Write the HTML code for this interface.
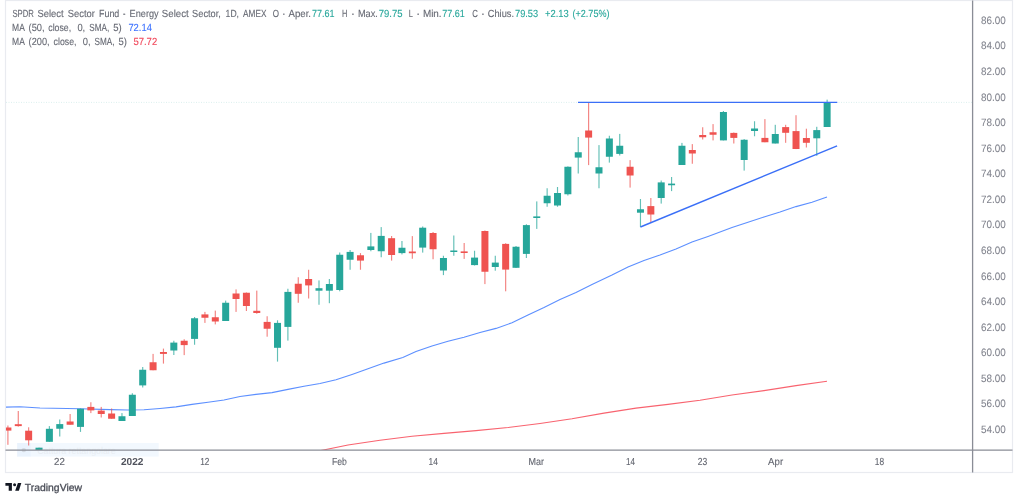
<!DOCTYPE html>
<html><head><meta charset="utf-8"><style>
html,body{margin:0;padding:0;background:#fff;width:1024px;height:497px;overflow:hidden}
svg{display:block}
.tl{position:absolute;left:0;top:0;will-change:transform}
text{font-family:"Liberation Sans",sans-serif;text-rendering:geometricPrecision}
</style></head><body>
<svg width="1024" height="497" viewBox="0 0 1024 497">
<rect x="0" y="0" width="1024" height="497" fill="#fff"/>
<!-- frame -->
<rect x="5.5" y="0.5" width="1007" height="472" fill="none" stroke="#e9ebf0" stroke-width="1.2"/>
<rect x="17.2" y="443" width="141.5" height="13.6" fill="#eaf3fd" opacity="0.6"/>
<rect x="17.2" y="443" width="13.4" height="13.6" fill="#dceafb" opacity="0.35"/>
<text x="37.2" y="453.5" textLength="78.5" lengthAdjust="spacingAndGlyphs" fill="#d8dade" font-size="10" opacity="0.35">Cattura rettangolare</text>
<circle cx="23.8" cy="450.1" r="2.2" fill="#c0c3ca" opacity="0.5"/>
<defs><clipPath id="pane"><rect x="6" y="1" width="966" height="449"/></clipPath></defs>
<g clip-path="url(#pane)">
<line x1="6" y1="102.4" x2="972" y2="102.4" stroke="#26a69a" stroke-width="1" stroke-dasharray="1 1.5" opacity="0.16"/>
<path d="M300.0,454.5 L323.5,450.0 L348.0,445.0 L380.0,440.2 L412.0,436.2 L444.0,433.4 L476.0,430.6 L508.0,427.5 L540.0,423.5 L572.0,418.8 L604.0,413.1 L636.0,408.1 L668.0,404.4 L700.0,400.2 L732.0,395.0 L764.0,390.6 L796.0,385.6 L827.0,381.2" fill="none" stroke="#f7525f" stroke-width="1.1" opacity="0.9"/>
<path d="M5.0,407.2 L20.0,406.8 L40.0,408.0 L80.0,408.8 L110.0,409.6 L128.0,410.0 L144.0,409.8 L160.0,408.5 L176.0,406.9 L192.0,404.4 L208.0,402.2 L224.0,400.0 L240.0,396.5 L256.0,394.4 L272.0,392.6 L288.0,389.4 L304.0,386.2 L320.0,383.5 L336.0,379.8 L352.0,374.4 L368.0,368.8 L384.0,363.1 L402.8,357.5 L416.0,351.6 L432.0,346.0 L448.0,341.2 L464.0,337.2 L480.0,332.5 L496.0,328.4 L512.0,322.8 L528.0,315.1 L544.0,307.6 L560.0,299.5 L576.0,292.6 L592.0,284.5 L612.0,275.1 L628.0,267.0 L644.0,260.5 L660.0,255.1 L676.0,248.9 L692.0,242.0 L708.0,236.5 L716.0,233.6 L732.0,227.4 L748.0,222.2 L764.0,217.0 L780.0,212.0 L796.0,206.6 L812.0,202.2 L827.0,197.0" fill="none" stroke="#3f7bff" stroke-width="1.1" opacity="0.85"/>
<rect x="7.33" y="425.50" width="1.15" height="19.30" fill="#ef5350" opacity="0.72"/>
<rect x="4.40" y="427.50" width="7.0" height="3.10" fill="#ef5350"/>
<rect x="17.70" y="411.00" width="1.15" height="15.60" fill="#ef5350" opacity="0.72"/>
<rect x="14.77" y="424.20" width="7.0" height="1.90" fill="#ef5350"/>
<rect x="28.07" y="427.30" width="1.15" height="18.20" fill="#ef5350" opacity="0.72"/>
<rect x="25.14" y="430.70" width="7.0" height="9.60" fill="#ef5350"/>
<rect x="38.43" y="447.70" width="1.15" height="4.30" fill="#26a69a" opacity="0.72"/>
<rect x="35.51" y="447.70" width="7.0" height="4.30" fill="#26a69a"/>
<rect x="48.80" y="426.10" width="1.15" height="15.70" fill="#26a69a" opacity="0.72"/>
<rect x="45.88" y="428.80" width="7.0" height="13.00" fill="#26a69a"/>
<rect x="59.17" y="419.50" width="1.15" height="17.00" fill="#26a69a" opacity="0.72"/>
<rect x="56.25" y="424.10" width="7.0" height="4.65" fill="#26a69a"/>
<rect x="69.55" y="414.00" width="1.15" height="10.75" fill="#ef5350" opacity="0.72"/>
<rect x="66.62" y="421.50" width="7.0" height="3.25" fill="#ef5350"/>
<rect x="79.91" y="408.50" width="1.15" height="23.40" fill="#26a69a" opacity="0.72"/>
<rect x="76.99" y="408.75" width="7.0" height="18.15" fill="#26a69a"/>
<rect x="90.28" y="402.25" width="1.15" height="10.85" fill="#ef5350" opacity="0.72"/>
<rect x="87.36" y="406.90" width="7.0" height="3.50" fill="#ef5350"/>
<rect x="100.66" y="406.90" width="1.15" height="10.60" fill="#ef5350" opacity="0.72"/>
<rect x="97.73" y="410.60" width="7.0" height="3.40" fill="#ef5350"/>
<rect x="111.02" y="408.50" width="1.15" height="10.25" fill="#ef5350" opacity="0.72"/>
<rect x="108.10" y="413.50" width="7.0" height="5.25" fill="#ef5350"/>
<rect x="121.39" y="413.10" width="1.15" height="7.90" fill="#26a69a" opacity="0.72"/>
<rect x="118.47" y="416.25" width="7.0" height="4.75" fill="#26a69a"/>
<rect x="131.77" y="393.25" width="1.15" height="22.75" fill="#26a69a" opacity="0.72"/>
<rect x="128.84" y="394.75" width="7.0" height="21.25" fill="#26a69a"/>
<rect x="142.14" y="367.00" width="1.15" height="20.50" fill="#26a69a" opacity="0.72"/>
<rect x="139.21" y="369.75" width="7.0" height="15.65" fill="#26a69a"/>
<rect x="152.50" y="353.90" width="1.15" height="16.35" fill="#ef5350" opacity="0.72"/>
<rect x="149.58" y="362.25" width="7.0" height="8.00" fill="#ef5350"/>
<rect x="162.88" y="348.60" width="1.15" height="15.00" fill="#ef5350" opacity="0.72"/>
<rect x="159.95" y="352.00" width="7.0" height="1.90" fill="#ef5350"/>
<rect x="173.25" y="340.75" width="1.15" height="14.25" fill="#26a69a" opacity="0.72"/>
<rect x="170.32" y="342.60" width="7.0" height="7.90" fill="#26a69a"/>
<rect x="183.62" y="339.25" width="1.15" height="15.85" fill="#ef5350" opacity="0.72"/>
<rect x="180.69" y="340.75" width="7.0" height="4.35" fill="#ef5350"/>
<rect x="193.99" y="317.00" width="1.15" height="27.75" fill="#26a69a" opacity="0.72"/>
<rect x="191.06" y="318.25" width="7.0" height="20.65" fill="#26a69a"/>
<rect x="204.35" y="311.90" width="1.15" height="11.00" fill="#ef5350" opacity="0.72"/>
<rect x="201.43" y="314.40" width="7.0" height="3.35" fill="#ef5350"/>
<rect x="214.72" y="310.60" width="1.15" height="13.80" fill="#ef5350" opacity="0.72"/>
<rect x="211.80" y="317.25" width="7.0" height="4.25" fill="#ef5350"/>
<rect x="225.09" y="300.60" width="1.15" height="20.40" fill="#26a69a" opacity="0.72"/>
<rect x="222.17" y="302.75" width="7.0" height="18.25" fill="#26a69a"/>
<rect x="235.47" y="289.40" width="1.15" height="22.50" fill="#ef5350" opacity="0.72"/>
<rect x="232.54" y="293.50" width="7.0" height="5.50" fill="#ef5350"/>
<rect x="245.84" y="292.50" width="1.15" height="18.50" fill="#ef5350" opacity="0.72"/>
<rect x="242.91" y="292.75" width="7.0" height="13.25" fill="#ef5350"/>
<rect x="256.20" y="290.60" width="1.15" height="23.15" fill="#ef5350" opacity="0.72"/>
<rect x="253.28" y="310.80" width="7.0" height="2.20" fill="#ef5350"/>
<rect x="266.57" y="316.25" width="1.15" height="20.45" fill="#ef5350" opacity="0.72"/>
<rect x="263.65" y="321.90" width="7.0" height="6.85" fill="#ef5350"/>
<rect x="276.94" y="320.30" width="1.15" height="41.30" fill="#26a69a" opacity="0.72"/>
<rect x="274.02" y="322.90" width="7.0" height="24.90" fill="#26a69a"/>
<rect x="287.31" y="288.75" width="1.15" height="51.85" fill="#26a69a" opacity="0.72"/>
<rect x="284.39" y="291.90" width="7.0" height="35.00" fill="#26a69a"/>
<rect x="297.68" y="277.25" width="1.15" height="25.50" fill="#ef5350" opacity="0.72"/>
<rect x="294.76" y="283.75" width="7.0" height="10.05" fill="#ef5350"/>
<rect x="308.05" y="269.75" width="1.15" height="28.75" fill="#ef5350" opacity="0.72"/>
<rect x="305.13" y="279.00" width="7.0" height="6.40" fill="#ef5350"/>
<rect x="318.42" y="280.40" width="1.15" height="24.35" fill="#26a69a" opacity="0.72"/>
<rect x="315.50" y="288.20" width="7.0" height="2.50" fill="#26a69a"/>
<rect x="328.79" y="279.00" width="1.15" height="24.20" fill="#26a69a" opacity="0.72"/>
<rect x="325.87" y="284.00" width="7.0" height="6.70" fill="#26a69a"/>
<rect x="339.16" y="252.50" width="1.15" height="38.80" fill="#26a69a" opacity="0.72"/>
<rect x="336.24" y="254.75" width="7.0" height="35.25" fill="#26a69a"/>
<rect x="349.53" y="250.00" width="1.15" height="19.75" fill="#26a69a" opacity="0.72"/>
<rect x="346.61" y="251.90" width="7.0" height="7.85" fill="#26a69a"/>
<rect x="359.90" y="253.10" width="1.15" height="16.65" fill="#ef5350" opacity="0.72"/>
<rect x="356.98" y="255.25" width="7.0" height="5.35" fill="#ef5350"/>
<rect x="370.27" y="232.90" width="1.15" height="18.35" fill="#26a69a" opacity="0.72"/>
<rect x="367.35" y="246.40" width="7.0" height="3.60" fill="#26a69a"/>
<rect x="380.64" y="227.10" width="1.15" height="30.15" fill="#26a69a" opacity="0.72"/>
<rect x="377.72" y="235.90" width="7.0" height="15.35" fill="#26a69a"/>
<rect x="391.01" y="236.00" width="1.15" height="24.60" fill="#ef5350" opacity="0.72"/>
<rect x="388.09" y="238.20" width="7.0" height="16.80" fill="#ef5350"/>
<rect x="401.38" y="241.00" width="1.15" height="13.40" fill="#26a69a" opacity="0.72"/>
<rect x="398.46" y="247.75" width="7.0" height="5.35" fill="#26a69a"/>
<rect x="411.75" y="236.10" width="1.15" height="22.65" fill="#ef5350" opacity="0.72"/>
<rect x="408.83" y="251.50" width="7.0" height="1.75" fill="#ef5350"/>
<rect x="422.12" y="226.50" width="1.15" height="26.10" fill="#26a69a" opacity="0.72"/>
<rect x="419.20" y="227.70" width="7.0" height="19.90" fill="#26a69a"/>
<rect x="432.49" y="232.00" width="1.15" height="27.25" fill="#ef5350" opacity="0.72"/>
<rect x="429.57" y="233.00" width="7.0" height="16.25" fill="#ef5350"/>
<rect x="442.86" y="255.75" width="1.15" height="19.35" fill="#26a69a" opacity="0.72"/>
<rect x="439.94" y="258.00" width="7.0" height="12.50" fill="#26a69a"/>
<rect x="453.23" y="235.50" width="1.15" height="20.25" fill="#26a69a" opacity="0.72"/>
<rect x="450.31" y="250.50" width="7.0" height="1.50" fill="#26a69a"/>
<rect x="463.60" y="243.00" width="1.15" height="15.90" fill="#ef5350" opacity="0.72"/>
<rect x="460.68" y="251.40" width="7.0" height="1.60" fill="#ef5350"/>
<rect x="473.97" y="250.75" width="1.15" height="14.75" fill="#26a69a" opacity="0.72"/>
<rect x="471.05" y="257.60" width="7.0" height="7.50" fill="#26a69a"/>
<rect x="484.34" y="230.50" width="1.15" height="53.60" fill="#ef5350" opacity="0.72"/>
<rect x="481.42" y="231.00" width="7.0" height="40.75" fill="#ef5350"/>
<rect x="494.71" y="255.75" width="1.15" height="14.95" fill="#26a69a" opacity="0.72"/>
<rect x="491.79" y="262.60" width="7.0" height="4.40" fill="#26a69a"/>
<rect x="505.08" y="243.25" width="1.15" height="48.05" fill="#ef5350" opacity="0.72"/>
<rect x="502.16" y="243.90" width="7.0" height="25.70" fill="#ef5350"/>
<rect x="515.45" y="246.00" width="1.15" height="22.00" fill="#26a69a" opacity="0.72"/>
<rect x="512.53" y="246.75" width="7.0" height="21.05" fill="#26a69a"/>
<rect x="525.82" y="224.25" width="1.15" height="33.75" fill="#26a69a" opacity="0.72"/>
<rect x="522.90" y="225.10" width="7.0" height="28.80" fill="#26a69a"/>
<rect x="536.19" y="201.40" width="1.15" height="27.50" fill="#26a69a" opacity="0.72"/>
<rect x="533.27" y="216.40" width="7.0" height="1.60" fill="#26a69a"/>
<rect x="546.56" y="188.25" width="1.15" height="18.50" fill="#26a69a" opacity="0.72"/>
<rect x="543.64" y="195.75" width="7.0" height="7.50" fill="#26a69a"/>
<rect x="556.93" y="187.00" width="1.15" height="19.75" fill="#26a69a" opacity="0.72"/>
<rect x="554.01" y="193.00" width="7.0" height="12.50" fill="#26a69a"/>
<rect x="567.30" y="166.40" width="1.15" height="29.10" fill="#26a69a" opacity="0.72"/>
<rect x="564.38" y="166.75" width="7.0" height="27.50" fill="#26a69a"/>
<rect x="577.67" y="137.00" width="1.15" height="36.50" fill="#26a69a" opacity="0.72"/>
<rect x="574.75" y="152.25" width="7.0" height="5.35" fill="#26a69a"/>
<rect x="588.04" y="102.70" width="1.15" height="62.40" fill="#ef5350" opacity="0.72"/>
<rect x="585.12" y="130.50" width="7.0" height="7.10" fill="#ef5350"/>
<rect x="598.41" y="145.10" width="1.15" height="43.15" fill="#26a69a" opacity="0.72"/>
<rect x="595.49" y="167.25" width="7.0" height="6.25" fill="#26a69a"/>
<rect x="608.78" y="135.75" width="1.15" height="26.85" fill="#26a69a" opacity="0.72"/>
<rect x="605.86" y="138.50" width="7.0" height="18.25" fill="#26a69a"/>
<rect x="619.15" y="133.90" width="1.15" height="21.60" fill="#26a69a" opacity="0.72"/>
<rect x="616.23" y="145.75" width="7.0" height="8.15" fill="#26a69a"/>
<rect x="629.52" y="160.10" width="1.15" height="27.50" fill="#ef5350" opacity="0.72"/>
<rect x="626.60" y="166.75" width="7.0" height="8.75" fill="#ef5350"/>
<rect x="639.89" y="199.00" width="1.15" height="27.90" fill="#26a69a" opacity="0.72"/>
<rect x="636.97" y="209.25" width="7.0" height="3.45" fill="#26a69a"/>
<rect x="650.26" y="198.00" width="1.15" height="24.75" fill="#ef5350" opacity="0.72"/>
<rect x="647.34" y="206.10" width="7.0" height="8.40" fill="#ef5350"/>
<rect x="660.63" y="180.50" width="1.15" height="23.10" fill="#26a69a" opacity="0.72"/>
<rect x="657.71" y="182.40" width="7.0" height="15.60" fill="#26a69a"/>
<rect x="671.00" y="177.00" width="1.15" height="14.10" fill="#26a69a" opacity="0.72"/>
<rect x="668.08" y="183.60" width="7.0" height="1.65" fill="#26a69a"/>
<rect x="681.37" y="142.90" width="1.15" height="22.10" fill="#26a69a" opacity="0.72"/>
<rect x="678.45" y="145.75" width="7.0" height="19.25" fill="#26a69a"/>
<rect x="691.74" y="144.10" width="1.15" height="19.65" fill="#ef5350" opacity="0.72"/>
<rect x="688.82" y="150.00" width="7.0" height="3.50" fill="#ef5350"/>
<rect x="702.11" y="127.25" width="1.15" height="12.25" fill="#ef5350" opacity="0.72"/>
<rect x="699.19" y="135.00" width="7.0" height="2.25" fill="#ef5350"/>
<rect x="712.48" y="124.10" width="1.15" height="16.30" fill="#ef5350" opacity="0.72"/>
<rect x="709.56" y="132.25" width="7.0" height="2.50" fill="#ef5350"/>
<rect x="722.85" y="111.00" width="1.15" height="29.40" fill="#26a69a" opacity="0.72"/>
<rect x="719.93" y="112.00" width="7.0" height="28.40" fill="#26a69a"/>
<rect x="733.22" y="132.50" width="1.15" height="11.00" fill="#ef5350" opacity="0.72"/>
<rect x="730.30" y="132.90" width="7.0" height="5.00" fill="#ef5350"/>
<rect x="743.59" y="139.10" width="1.15" height="31.50" fill="#26a69a" opacity="0.72"/>
<rect x="740.67" y="139.75" width="7.0" height="20.25" fill="#26a69a"/>
<rect x="753.96" y="121.25" width="1.15" height="15.00" fill="#26a69a" opacity="0.72"/>
<rect x="751.04" y="128.50" width="7.0" height="2.50" fill="#26a69a"/>
<rect x="764.33" y="119.10" width="1.15" height="23.15" fill="#ef5350" opacity="0.72"/>
<rect x="761.41" y="137.90" width="7.0" height="4.35" fill="#ef5350"/>
<rect x="774.70" y="124.80" width="1.15" height="18.70" fill="#26a69a" opacity="0.72"/>
<rect x="771.78" y="134.00" width="7.0" height="9.50" fill="#26a69a"/>
<rect x="785.07" y="124.80" width="1.15" height="18.00" fill="#ef5350" opacity="0.72"/>
<rect x="782.15" y="127.10" width="7.0" height="5.70" fill="#ef5350"/>
<rect x="795.44" y="115.20" width="1.15" height="33.90" fill="#ef5350" opacity="0.72"/>
<rect x="792.52" y="131.10" width="7.0" height="17.90" fill="#ef5350"/>
<rect x="805.81" y="128.70" width="1.15" height="18.80" fill="#ef5350" opacity="0.72"/>
<rect x="802.89" y="138.00" width="7.0" height="4.80" fill="#ef5350"/>
<rect x="816.18" y="126.80" width="1.15" height="29.00" fill="#26a69a" opacity="0.72"/>
<rect x="813.26" y="130.10" width="7.0" height="8.20" fill="#26a69a"/>
<rect x="826.55" y="99.65" width="1.15" height="27.35" fill="#26a69a" opacity="0.72"/>
<rect x="823.63" y="102.25" width="7.0" height="24.75" fill="#26a69a"/>
<line x1="578" y1="102.3" x2="837.3" y2="102.3" stroke="#3a6ff7" stroke-width="1.3"/>
<line x1="640.4" y1="227" x2="837.1" y2="145.8" stroke="#3a6ff7" stroke-width="1.4"/>
</g>
<line x1="5.5" y1="450.2" x2="1012.5" y2="450.2" stroke="#8a8d96" stroke-width="1.3"/>
<line x1="972.6" y1="0.5" x2="972.6" y2="472.5" stroke="#8a8d96" stroke-width="1.3"/>
<!-- TradingView logo -->
<g fill="#131722">
<path d="M5.4,483 H11.9 V490.8 H8.7 V485.7 H5.4 Z"/>
<circle cx="14.6" cy="484.7" r="1.5"/>
<path d="M17.9,483 H21.3 L18.9,490.8 H15.2 Z"/>
</g>
</svg>
<svg class="tl" width="1024" height="497" viewBox="0 0 1024 497">
<text id="t0" transform="translate(12.40,17.1) scale(0.7509,1)" fill="#666973" stroke="#666973" stroke-width="0.12" font-size="10.3" font-weight="normal">SPDR</text><text id="t1" transform="translate(37.40,17.1) scale(0.9150,1)" fill="#666973" stroke="#666973" stroke-width="0.12" font-size="10.3" font-weight="normal">Select</text><text id="t2" transform="translate(67.75,17.1) scale(0.9121,1)" fill="#666973" stroke="#666973" stroke-width="0.12" font-size="10.3" font-weight="normal">Sector</text><text id="t3" transform="translate(99.00,17.1) scale(0.8644,1)" fill="#666973" stroke="#666973" stroke-width="0.12" font-size="10.3" font-weight="normal">Fund</text><text id="t4" transform="translate(123.10,17.1) scale(0.7245,1)" fill="#666973" stroke="#666973" stroke-width="0.12" font-size="10.3" font-weight="normal">-</text><text id="t5" transform="translate(129.60,17.1) scale(0.8912,1)" fill="#666973" stroke="#666973" stroke-width="0.12" font-size="10.3" font-weight="normal">Energy</text><text id="t6" transform="translate(161.80,17.1) scale(0.9394,1)" fill="#666973" stroke="#666973" stroke-width="0.12" font-size="10.3" font-weight="normal">Select</text><text id="t7" transform="translate(192.10,17.1) scale(0.8976,1)" fill="#666973" stroke="#666973" stroke-width="0.12" font-size="10.3" font-weight="normal">Sector,</text><text id="t8" transform="translate(225.60,17.1) scale(0.8366,1)" fill="#666973" stroke="#666973" stroke-width="0.12" font-size="10.3" font-weight="normal">1D,</text><text id="t9" transform="translate(243.10,17.1) scale(0.8014,1)" fill="#666973" stroke="#666973" stroke-width="0.12" font-size="10.3" font-weight="normal">AMEX</text><text id="t10" transform="translate(272.75,17.1) scale(0.7779,1)" fill="#666973" stroke="#666973" stroke-width="0.12" font-size="10.3" font-weight="normal">O</text><text id="t11" transform="translate(283.10,17.1) scale(0.4782,1)" fill="#666973" stroke="#666973" stroke-width="0.12" font-size="10.3" font-weight="normal">-</text><text id="t12" transform="translate(288.50,17.1) scale(0.9355,1)" fill="#666973" stroke="#666973" stroke-width="0.12" font-size="10.3" font-weight="normal">Aper.</text><text id="t13" transform="translate(311.90,17.1) scale(0.8720,1)" fill="#26a69a" stroke="#26a69a" stroke-width="0.12" font-size="10.3" font-weight="normal">77.61</text><text id="t14" transform="translate(341.90,17.1) scale(0.7214,1)" fill="#666973" stroke="#666973" stroke-width="0.12" font-size="10.3" font-weight="normal">H</text><text id="t15" transform="translate(351.90,17.1) scale(0.5362,1)" fill="#666973" stroke="#666973" stroke-width="0.12" font-size="10.3" font-weight="normal">-</text><text id="t16" transform="translate(357.90,17.1) scale(0.8969,1)" fill="#666973" stroke="#666973" stroke-width="0.12" font-size="10.3" font-weight="normal">Max.</text><text id="t17" transform="translate(378.75,17.1) scale(0.9205,1)" fill="#26a69a" stroke="#26a69a" stroke-width="0.12" font-size="10.3" font-weight="normal">79.75</text><text id="t18" transform="translate(408.75,17.1) scale(0.7260,1)" fill="#666973" stroke="#666973" stroke-width="0.12" font-size="10.3" font-weight="normal">L</text><text id="t19" transform="translate(417.25,17.1) scale(0.5362,1)" fill="#666973" stroke="#666973" stroke-width="0.12" font-size="10.3" font-weight="normal">-</text><text id="t20" transform="translate(422.90,17.1) scale(0.9606,1)" fill="#666973" stroke="#666973" stroke-width="0.12" font-size="10.3" font-weight="normal">Min.</text><text id="t21" transform="translate(442.25,17.1) scale(0.8720,1)" fill="#26a69a" stroke="#26a69a" stroke-width="0.12" font-size="10.3" font-weight="normal">77.61</text><text id="t22" transform="translate(472.25,17.1) scale(0.7619,1)" fill="#666973" stroke="#666973" stroke-width="0.12" font-size="10.3" font-weight="normal">C</text><text id="t23" transform="translate(481.90,17.1) scale(0.5362,1)" fill="#666973" stroke="#666973" stroke-width="0.12" font-size="10.3" font-weight="normal">-</text><text id="t24" transform="translate(487.75,17.1) scale(0.8990,1)" fill="#666973" stroke="#666973" stroke-width="0.12" font-size="10.3" font-weight="normal">Chius.</text><text id="t25" transform="translate(515.00,17.1) scale(0.8953,1)" fill="#26a69a" stroke="#26a69a" stroke-width="0.12" font-size="10.3" font-weight="normal">79.53</text><text id="t26" transform="translate(545.00,17.1) scale(0.9114,1)" fill="#26a69a" stroke="#26a69a" stroke-width="0.12" font-size="10.3" font-weight="normal">+2.13</text><text id="t27" transform="translate(572.50,17.1) scale(0.8794,1)" fill="#26a69a" stroke="#26a69a" stroke-width="0.12" font-size="10.3" font-weight="normal">(+2.75%)</text><text id="t28" transform="translate(12.10,30.9) scale(0.8257,1)" fill="#666973" stroke="#666973" stroke-width="0.12" font-size="10.3" font-weight="normal">MA</text><text id="t29" transform="translate(28.60,30.9) scale(0.9005,1)" fill="#666973" stroke="#666973" stroke-width="0.12" font-size="10.3" font-weight="normal">(50,</text><text id="t30" transform="translate(48.30,30.9) scale(0.8481,1)" fill="#666973" stroke="#666973" stroke-width="0.12" font-size="10.3" font-weight="normal">close,</text><text id="t31" transform="translate(77.40,30.9) scale(0.9069,1)" fill="#666973" stroke="#666973" stroke-width="0.12" font-size="10.3" font-weight="normal">0,</text><text id="t32" transform="translate(89.25,30.9) scale(0.7942,1)" fill="#666973" stroke="#666973" stroke-width="0.12" font-size="10.3" font-weight="normal">SMA,</text><text id="t33" transform="translate(113.30,30.9) scale(0.9218,1)" fill="#666973" stroke="#666973" stroke-width="0.12" font-size="10.3" font-weight="normal">5)</text><text id="t34" transform="translate(128.40,30.9) scale(0.9108,1)" fill="#3d72ff" stroke="#3d72ff" stroke-width="0.12" font-size="10.3" font-weight="normal">72.14</text><text id="t35" transform="translate(12.10,44.6) scale(0.8257,1)" fill="#666973" stroke="#666973" stroke-width="0.12" font-size="10.3" font-weight="normal">MA</text><text id="t36" transform="translate(28.60,44.6) scale(0.8942,1)" fill="#666973" stroke="#666973" stroke-width="0.12" font-size="10.3" font-weight="normal">(200,</text><text id="t37" transform="translate(53.60,44.6) scale(0.8481,1)" fill="#666973" stroke="#666973" stroke-width="0.12" font-size="10.3" font-weight="normal">close,</text><text id="t38" transform="translate(82.70,44.6) scale(0.9069,1)" fill="#666973" stroke="#666973" stroke-width="0.12" font-size="10.3" font-weight="normal">0,</text><text id="t39" transform="translate(94.60,44.6) scale(0.7942,1)" fill="#666973" stroke="#666973" stroke-width="0.12" font-size="10.3" font-weight="normal">SMA,</text><text id="t40" transform="translate(118.60,44.6) scale(0.9163,1)" fill="#666973" stroke="#666973" stroke-width="0.12" font-size="10.3" font-weight="normal">5)</text><text id="t41" transform="translate(133.40,44.6) scale(0.9224,1)" fill="#f0475a" stroke="#f0475a" stroke-width="0.12" font-size="10.3" font-weight="normal">57.72</text><text id="t42" transform="translate(981.00,23.8) scale(0.9340,1)" fill="#80838d" stroke="#80838d" stroke-width="0.05" font-size="10.6" font-weight="normal">86.00</text><text id="t43" transform="translate(981.00,49.37) scale(0.9340,1)" fill="#80838d" stroke="#80838d" stroke-width="0.05" font-size="10.6" font-weight="normal">84.00</text><text id="t44" transform="translate(981.00,74.94) scale(0.9340,1)" fill="#80838d" stroke="#80838d" stroke-width="0.05" font-size="10.6" font-weight="normal">82.00</text><text id="t45" transform="translate(981.00,100.51) scale(0.9340,1)" fill="#80838d" stroke="#80838d" stroke-width="0.05" font-size="10.6" font-weight="normal">80.00</text><text id="t46" transform="translate(981.00,126.08) scale(0.9340,1)" fill="#80838d" stroke="#80838d" stroke-width="0.05" font-size="10.6" font-weight="normal">78.00</text><text id="t47" transform="translate(981.00,151.64999999999998) scale(0.9340,1)" fill="#80838d" stroke="#80838d" stroke-width="0.05" font-size="10.6" font-weight="normal">76.00</text><text id="t48" transform="translate(981.00,177.22) scale(0.9340,1)" fill="#80838d" stroke="#80838d" stroke-width="0.05" font-size="10.6" font-weight="normal">74.00</text><text id="t49" transform="translate(981.00,202.79) scale(0.9340,1)" fill="#80838d" stroke="#80838d" stroke-width="0.05" font-size="10.6" font-weight="normal">72.00</text><text id="t50" transform="translate(981.00,228.35999999999999) scale(0.9340,1)" fill="#80838d" stroke="#80838d" stroke-width="0.05" font-size="10.6" font-weight="normal">70.00</text><text id="t51" transform="translate(981.00,253.92999999999998) scale(0.9340,1)" fill="#80838d" stroke="#80838d" stroke-width="0.05" font-size="10.6" font-weight="normal">68.00</text><text id="t52" transform="translate(981.00,279.5) scale(0.9340,1)" fill="#80838d" stroke="#80838d" stroke-width="0.05" font-size="10.6" font-weight="normal">66.00</text><text id="t53" transform="translate(981.00,305.07) scale(0.9340,1)" fill="#80838d" stroke="#80838d" stroke-width="0.05" font-size="10.6" font-weight="normal">64.00</text><text id="t54" transform="translate(981.00,330.64000000000004) scale(0.9340,1)" fill="#80838d" stroke="#80838d" stroke-width="0.05" font-size="10.6" font-weight="normal">62.00</text><text id="t55" transform="translate(981.00,356.21000000000004) scale(0.9340,1)" fill="#80838d" stroke="#80838d" stroke-width="0.05" font-size="10.6" font-weight="normal">60.00</text><text id="t56" transform="translate(981.00,381.78000000000003) scale(0.9340,1)" fill="#80838d" stroke="#80838d" stroke-width="0.05" font-size="10.6" font-weight="normal">58.00</text><text id="t57" transform="translate(981.00,407.35) scale(0.9340,1)" fill="#80838d" stroke="#80838d" stroke-width="0.05" font-size="10.6" font-weight="normal">56.00</text><text id="t58" transform="translate(981.00,432.92) scale(0.9340,1)" fill="#80838d" stroke="#80838d" stroke-width="0.05" font-size="10.6" font-weight="normal">54.00</text><text id="t59" transform="translate(54.00,465.1) scale(0.9539,1)" fill="#62656f" stroke="#62656f" stroke-width="0.12" font-size="10.2" font-weight="normal">22</text><text id="t60" transform="translate(121.00,465.1) scale(0.9914,1)" fill="#50535d" stroke="#50535d" stroke-width="0.0" font-size="10.2" font-weight="bold">2022</text><text id="t61" transform="translate(200.25,465.1) scale(0.8082,1)" fill="#62656f" stroke="#62656f" stroke-width="0.12" font-size="10.2" font-weight="normal">12</text><text id="t62" transform="translate(331.90,465.1) scale(0.8525,1)" fill="#62656f" stroke="#62656f" stroke-width="0.12" font-size="10.2" font-weight="normal">Feb</text><text id="t63" transform="translate(428.50,465.1) scale(0.8170,1)" fill="#62656f" stroke="#62656f" stroke-width="0.12" font-size="10.2" font-weight="normal">14</text><text id="t64" transform="translate(528.50,465.1) scale(0.8835,1)" fill="#62656f" stroke="#62656f" stroke-width="0.12" font-size="10.2" font-weight="normal">Mar</text><text id="t65" transform="translate(626.00,465.1) scale(0.7949,1)" fill="#62656f" stroke="#62656f" stroke-width="0.12" font-size="10.2" font-weight="normal">14</text><text id="t66" transform="translate(697.75,465.1) scale(0.8391,1)" fill="#62656f" stroke="#62656f" stroke-width="0.12" font-size="10.2" font-weight="normal">23</text><text id="t67" transform="translate(768.10,465.1) scale(0.9457,1)" fill="#62656f" stroke="#62656f" stroke-width="0.12" font-size="10.2" font-weight="normal">Apr</text><text id="t68" transform="translate(874.75,465.1) scale(0.8170,1)" fill="#62656f" stroke="#62656f" stroke-width="0.12" font-size="10.2" font-weight="normal">18</text><text id="t69" transform="translate(24.80,490.8) scale(1.0088,1)" fill="#4a4d57" stroke="#4a4d57" stroke-width="0.3" font-size="10.3" font-weight="normal">TradingView</text>
</svg>
</body></html>
